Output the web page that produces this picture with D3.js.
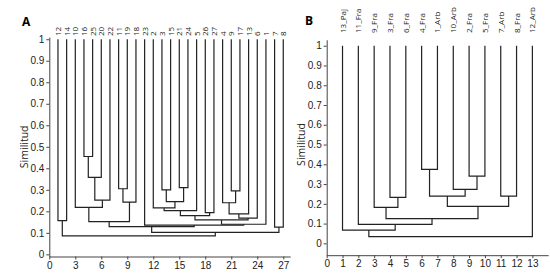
<!DOCTYPE html>
<html>
<head>
<meta charset="utf-8">
<script src="https://cdn.jsdelivr.net/npm/d3@7"></script>
<style>
  body { margin: 0; background: #fff; }
  svg { display: block; font-family: "Open Sans", "DejaVu Sans", sans-serif; }
  .link { fill: none; stroke: #222; stroke-width: 1.2; }
  .axis path, .axis line { stroke: #444; }
  .axis text { font-size: 10px; fill: #222; }
</style>
</head>
<body>
<svg id="chart" width="550" height="276"></svg>
<script>
// ---- panel A: leaf labels left to right, merges as [left, right, similarity]
// numbers = leaf position (1-based), 'mN' = earlier merge
const leavesA = ['12','14','10','16','25','20','22','11','19','18','23','2','3','15','21','24','5','26','27','4','9','17','13','6','1','7','8'];
const mergesA = [
  [1, 2, 0.157],
  [4, 5, 0.455],
  ['m1', 6, 0.358],
  ['m2', 7, 0.252],
  [3, 'm3', 0.218],
  [8, 9, 0.305],
  ['m5', 10, 0.243],
  ['m4', 'm6', 0.152],
  [13, 14, 0.300],
  [15, 16, 0.310],
  ['m8', 'm9', 0.245],
  [12, 'm10', 0.216],
  ['m11', 17, 0.203],
  [18, 19, 0.194],
  ['m12', 'm13', 0.180],
  [21, 22, 0.295],
  [20, 'm15', 0.240],
  ['m16', 23, 0.188],
  ['m17', 24, 0.168],
  ['m14', 'm18', 0.160],
  ['m19', 25, 0.140],
  [11, 'm20', 0.136],
  ['m7', 'm21', 0.129],
  [26, 27, 0.127],
  ['m22', 'm23', 0.102],
  ['m0', 'm24', 0.086]
];
const xTicksA = [0, 3, 6, 9, 12, 15, 18, 21, 24, 27];

// ---- panel B
const leavesB = ['13_Paj','11_Fra','9_Fra','3_Fra','6_Fra','4_Fra','1_Arb','10_Arb','2_Fra','5_Fra','7_Arb','8_Fra','12_Arb'];
const mergesB = [
  [4, 5, 0.233],
  [3, 'm0', 0.182],
  [6, 7, 0.374],
  [9, 10, 0.340],
  [8, 'm3', 0.273],
  ['m2', 'm4', 0.239],
  [11, 12, 0.239],
  ['m5', 'm6', 0.187],
  ['m1', 'm7', 0.125],
  [2, 'm8', 0.096],
  [1, 'm9', 0.067],
  ['m10', 13, 0.034]
];
const xTicksB = d3.range(0, 14);

const yTicks = [0, 0.1, 0.2, 0.3, 0.4, 0.5, 0.6, 0.7, 0.8, 0.9, 1];
const yFmt = d => (d === 0 || d === 1) ? String(d) : d.toFixed(1);

const svg = d3.select('#chart');

function drawPanel(cfg) {
  const { leaves, merges, x, y, xTicks, letter, letterPos, ylabelX, labelY, labelSize } = cfg;
  const g = svg.append('g');

  // axes
  g.append('g').attr('class', 'axis')
    .attr('transform', `translate(0,${y.range()[0]})`)
    .call(d3.axisBottom(x).tickValues(xTicks).tickSize(3).tickSizeOuter(0).tickPadding(2));
  g.append('g').attr('class', 'axis')
    .attr('transform', `translate(${x.range()[0]},0)`)
    .call(d3.axisLeft(y).tickValues(yTicks).tickFormat(yFmt).tickSize(3).tickSizeOuter(0).tickPadding(2));

  // node positions
  const pos = {};
  leaves.forEach((l, i) => { pos[i + 1] = { x: x(i + 1), y: y(1) }; });
  merges.forEach((m, i) => {
    const a = pos[m[0]], b = pos[m[1]];
    const yy = y(m[2]);
    g.append('path').attr('class', 'link')
      .attr('d', `M${a.x},${a.y}V${yy}H${b.x}V${b.y}`);
    pos['m' + i] = { x: (a.x + b.x) / 2, y: yy };
  });

  // leaf labels
  g.append('g').selectAll('text').data(leaves).join('text')
    .attr('transform', (d, i) => `translate(${x(i + 1) + 3},${labelY}) rotate(-90)`)
    .attr('font-size', labelSize)
    .attr('fill', '#222')
    .text(d => d);

  g.append('text')
    .attr('x', letterPos[0]).attr('y', letterPos[1])
    .attr('font-size', 12).attr('font-weight', 'bold')
    .text(letter);

  g.append('text')
    .attr('transform', `translate(${ylabelX},${(y(0) + y(1)) / 2}) rotate(-90)`)
    .attr('text-anchor', 'middle')
    .attr('font-size', 10.5)
    .attr('fill', '#222')
    .text('Similitud');
}

drawPanel({
  leaves: leavesA, merges: mergesA, xTicks: xTicksA,
  x: d3.scaleLinear().domain([0, 27.8]).range([49.3, 290.2]),
  y: d3.scaleLinear().domain([-0.01, 1.01]).range([256.5, 37.1]),
  letter: 'A', letterPos: [22, 26], ylabelX: 28, labelY: 36, labelSize: 8
});

drawPanel({
  leaves: leavesB, merges: mergesB, xTicks: xTicksB,
  x: d3.scaleLinear().domain([0, 14]).range([326.7, 548.2]),
  y: d3.scaleLinear().domain([-0.06, 1.03]).range([255.2, 39.8]),
  letter: 'B', letterPos: [305, 25], ylabelX: 305, labelY: 33, labelSize: 8
});
</script>
</body>
</html>
